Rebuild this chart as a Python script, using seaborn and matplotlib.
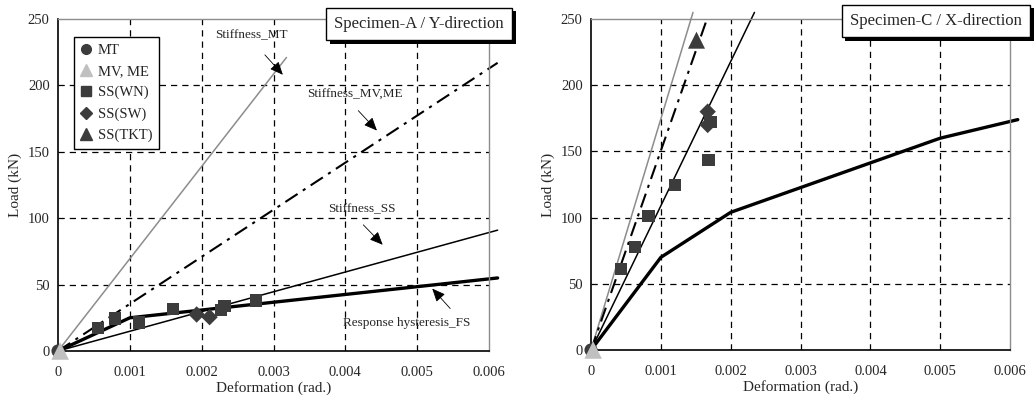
import matplotlib
matplotlib.use("Agg")
import matplotlib.pyplot as plt
import matplotlib.patheffects as pe
from matplotlib.lines import Line2D
import seaborn as sns

# Specimen-A / Y-direction
a_mt_x = [0, 0.00318]
a_mt_y = [0, 221]
a_mv_x = [0, 0.00612]
a_mv_y = [0, 217]
a_ss_x = [0, 0.00612]
a_ss_y = [0, 91]
a_fs_x = [0, 0.001, 0.00612]
a_fs_y = [0, 25, 55]
a_wn_x = [0.00056, 0.00079, 0.00113, 0.00160, 0.00227, 0.00232, 0.00276]
a_wn_y = [17.5, 24.5, 21.5, 31.5, 31.0, 34.0, 38.0]
a_sw_x = [0.00193, 0.00211]
a_sw_y = [27.5, 25.5]

# Specimen-C / X-direction
c_mt_x = [0, 0.00146]
c_mt_y = [0, 255]
c_mv_x = [0, 0.00166]
c_mv_y = [0, 250]
c_ss_x = [0, 0.00234]
c_ss_y = [0, 255]
c_fs_x = [0, 0.001, 0.002, 0.005, 0.00611]
c_fs_y = [0, 70, 104, 160, 174]
c_wn_x = [0.00043, 0.00063, 0.00082, 0.00120, 0.00168, 0.00171]
c_wn_y = [61, 78, 101, 124.5, 143.5, 172]
c_sw_x = [0.00167, 0.00167]
c_sw_y = [180, 170]
c_tkt_x = [0.00151]
c_tkt_y = [234]

origin_x = [0]
origin_y = [0]

xticks = [0, 0.001, 0.002, 0.003, 0.004, 0.005, 0.006]
xlabels = ["0", "0.001", "0.002", "0.003", "0.004", "0.005", "0.006"]
yticks = [0, 50, 100, 150, 200, 250]

DARK = "#3c3c3c"
LIGHT = "#c0c0c0"
GRAY = "#8c8c8c"
DASHDOT = (0, (7, 3, 1.5, 3))

sns.set_style("white")
plt.rcParams['font.family'] = ['Liberation Serif', 'DejaVu Serif']

fig = plt.figure(figsize=(10.36, 4.0), dpi=100)
ax1 = fig.add_axes([0.056, 0.1225, 0.416, 0.83])
ax2 = fig.add_axes([0.5705, 0.125, 0.4045, 0.8275])


def line(ax, x, y, **kw):
    sns.lineplot(x=x, y=y, ax=ax, sort=False, estimator=None, clip_on=False, **kw)


def pts(ax, x, y, marker, color, s):
    sns.scatterplot(x=x, y=y, ax=ax, marker=marker, color=color, s=s,
                    edgecolor="none", clip_on=False, zorder=5)


def frame(ax):
    ax.set_xlim(0, 0.006)
    ax.set_ylim(0, 250)
    ax.set_xticks(xticks)
    ax.set_xticklabels(xlabels)
    ax.set_yticks(yticks)
    ax.tick_params(length=0, labelsize=10.5)
    ax.tick_params(axis="x", pad=11)
    ax.tick_params(axis="y", pad=6)
    for v in xticks[1:-1]:
        ax.axvline(v, color="black", lw=0.9, ls=(0, (5, 4)), zorder=0)
    for v in yticks[1:-1]:
        ax.axhline(v, color="black", lw=0.9, ls=(0, (5, 4)), zorder=0)
    for side in ["left", "bottom"]:
        ax.spines[side].set_color("black")
        ax.spines[side].set_linewidth(1.2)
    for side in ["top", "right"]:
        ax.spines[side].set_color(GRAY)
        ax.spines[side].set_linewidth(1.0)
    ax.set_xlabel("Deformation (rad.)", fontsize=11, labelpad=1)
    ax.set_ylabel("Load (kN)", fontsize=11, labelpad=4)


def title_box(ax, x, y, text):
    t = ax.text(x, y, text, transform=ax.transAxes, fontsize=12, ha="right", va="center",
                bbox=dict(boxstyle="square,pad=0.5", fc="white", ec="black", lw=1.0),
                zorder=10, clip_on=False)
    t.get_bbox_patch().set_path_effects([
        pe.SimplePatchShadow(offset=(2.5, -2.5), shadow_rgbFace="black", alpha=1.0),
        pe.Normal()])


def note(ax, text, xy_text, tail, head):
    ax.text(xy_text[0], xy_text[1], text, fontsize=9.5, ha="center", va="center")
    ax.annotate("", xy=head, xytext=tail,
                arrowprops=dict(arrowstyle="-|>,head_length=0.8,head_width=0.35",
                                color="black", lw=0.6, shrinkA=0, shrinkB=0))


# left panel
line(ax1, a_mt_x, a_mt_y, color=GRAY, lw=1.1)
line(ax1, a_mv_x, a_mv_y, color="black", lw=1.5, linestyle=DASHDOT)
line(ax1, a_ss_x, a_ss_y, color="black", lw=1.1)
line(ax1, a_fs_x, a_fs_y, color="black", lw=2.4)
pts(ax1, a_wn_x, a_wn_y, "s", DARK, 80)
pts(ax1, a_sw_x, a_sw_y, "D", DARK, 70)
pts(ax1, origin_x, origin_y, "o", DARK, 90)
pts(ax1, [0.00003], origin_y, "^", LIGHT, 160)
frame(ax1)

note(ax1, "Stiffness_MT", (0.00269, 238), (0.00288, 223), (0.00313, 208))
note(ax1, "Stiffness_MV,ME", (0.00413, 193), (0.00418, 181), (0.00444, 166))
note(ax1, "Stiffness_SS", (0.00423, 107), (0.00425, 95), (0.00452, 80))
note(ax1, "Response hysteresis_FS", (0.00486, 21), (0.00546, 32), (0.00521, 47))
title_box(ax1, 1.035, 0.985, "Specimen-A / Y-direction")

handles = [
    Line2D([], [], ls="none", marker="o", color=DARK, ms=7),
    Line2D([], [], ls="none", marker="^", color=LIGHT, ms=8),
    Line2D([], [], ls="none", marker="s", color=DARK, ms=7),
    Line2D([], [], ls="none", marker="D", color=DARK, ms=6),
    Line2D([], [], ls="none", marker="^", color=DARK, ms=8),
]
labels = ["MT", "MV, ME", "SS(WN)", "SS(SW)", "SS(TKT)"]
leg = ax1.legend(handles, labels, loc="upper left", bbox_to_anchor=(0.037, 0.946),
                 fontsize=10.5, frameon=True, fancybox=False, edgecolor="black",
                 framealpha=1, handlelength=0.8, handletextpad=0.4,
                 labelspacing=0.55, borderpad=0.45, borderaxespad=0)
leg.get_frame().set_linewidth(1.0)

# right panel
line(ax2, c_mt_x, c_mt_y, color=GRAY, lw=1.1)
line(ax2, c_mv_x, c_mv_y, color="black", lw=1.5, linestyle=DASHDOT)
line(ax2, c_ss_x, c_ss_y, color="black", lw=1.1)
line(ax2, c_fs_x, c_fs_y, color="black", lw=2.4)
pts(ax2, c_wn_x, c_wn_y, "s", DARK, 80)
pts(ax2, c_sw_x, c_sw_y, "D", DARK, 70)
pts(ax2, c_tkt_x, c_tkt_y, "^", DARK, 150)
pts(ax2, origin_x, origin_y, "o", DARK, 90)
pts(ax2, [0.00003], origin_y, "^", LIGHT, 160)
frame(ax2)
title_box(ax2, 1.028, 0.994, "Specimen-C / X-direction")

fig.savefig("out.png", dpi=100)
